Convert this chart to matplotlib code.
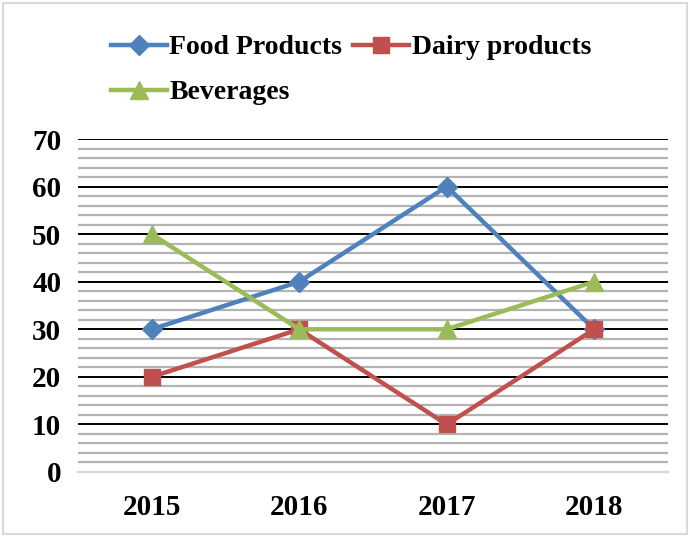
import numpy as np
import matplotlib
matplotlib.use("Agg")
import matplotlib.pyplot as plt
from matplotlib.patches import Rectangle

years = ["2015", "2016", "2017", "2018"]
food_products = [30, 40, 60, 30]
dairy_products = [20, 30, 10, 30]
beverages = [50, 30, 30, 40]

plt.rcParams['font.family'] = ['Liberation Serif', 'DejaVu Serif']
plt.rcParams['font.weight'] = 'bold'

fig = plt.figure(figsize=(6.9, 5.37), dpi=100)
ax = fig.add_axes([78/690, 65/537, 590/690, 333/537])

x = np.arange(len(years))
l1, = ax.plot(x, food_products, color='#4F81BD', lw=3.2, marker='D', ms=10, label='Food Products', zorder=3)
l2, = ax.plot(x, dairy_products, color='#C0504D', lw=3.2, marker='s', ms=12, label='Dairy products', zorder=4)
l3, = ax.plot(x, beverages, color='#9BBB59', lw=3.2, marker='^', ms=13, label='Beverages', zorder=5)

ax.set_xlim(-0.5, 3.5)
ax.set_ylim(0, 70)
ax.set_xticks(x)
ax.set_xticklabels(years)
ax.set_yticks(np.arange(0, 71, 10))
ax.set_yticks(np.arange(0, 71, 2), minor=True)
ax.grid(which='minor', axis='y', color='#B3B3B3', lw=1.6, zorder=1)
ax.grid(which='major', axis='y', color='black', lw=1.4, zorder=2)
ax.set_axisbelow(True)
for s in ['top', 'right', 'left']:
    ax.spines[s].set_visible(False)
ax.spines['bottom'].set_color('#D9D9D9')
ax.spines['bottom'].set_linewidth(1.6)
ax.tick_params(axis='both', which='both', length=0, labelsize=21)
ax.tick_params(axis='x', pad=16)
ax.tick_params(axis='y', pad=12)

# order so rows read Food, Dairy / Beverages
fig.legend(handles=[l1, l3, l2], ncol=2, loc='upper left', bbox_to_anchor=(86/690, 1 - 10/537),
           frameon=False, fontsize=20, handlelength=2.0, handletextpad=0.1,
           columnspacing=0.4, labelspacing=0.7)

fig.patches.append(Rectangle((3/690, 3/537), 684/690, 531/537, transform=fig.transFigure,
                             fill=False, edgecolor='#D9D9D9', lw=1.5))

fig.savefig('out.png', dpi=100)
